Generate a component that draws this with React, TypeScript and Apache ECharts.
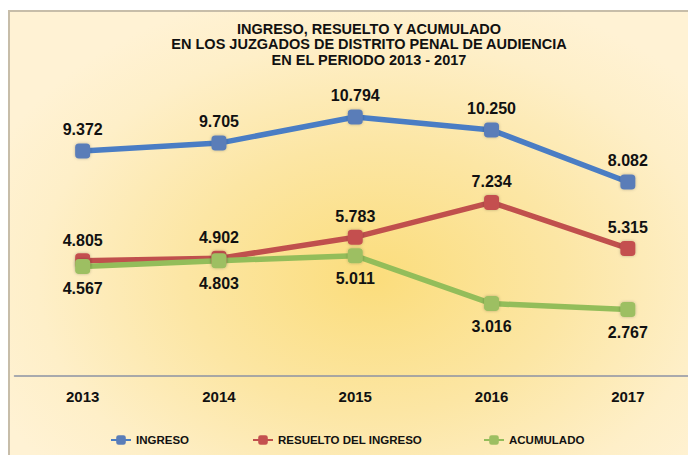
import React, { useEffect, useRef } from "react";
import * as echarts from "echarts";

const titleLines = [
  "INGRESO, RESUELTO Y ACUMULADO",
  "EN LOS JUZGADOS DE DISTRITO PENAL DE AUDIENCIA",
  "EN EL PERIODO 2013 - 2017",
];
const years = ["2013", "2014", "2015", "2016", "2017"];
const ingreso = [9372, 9705, 10794, 10250, 8082];
const resuelto = [4805, 4902, 5783, 7234, 5315];
const acumulado = [4567, 4803, 5011, 3016, 2767];
const seriesNames = ["INGRESO", "RESUELTO DEL INGRESO", "ACUMULADO"];

const fmt = (v: number) => String(v).replace(/\B(?=(\d{3})+(?!\d))/g, ".");
const FONT = "'Liberation Sans', Arial, sans-serif";

export default function App() {
  const ref = useRef<HTMLDivElement>(null);
  useEffect(() => {
    if (!ref.current) return;
    const chart = echarts.init(ref.current, null, { renderer: "svg" });
    const labelStyle = {
      show: true,
      fontFamily: FONT,
      fontWeight: "bold" as const,
      fontSize: 16,
      color: "#111",
      formatter: (p: any) => fmt(p.value),
    };
    const mk = (name: string, data: number[], color: string, marker: string, pos: string, dist: number) => ({
      name,
      type: "line",
      data,
      symbol: "roundRect",
      symbolSize: 15,
      lineStyle: { color, width: 5.5 },
      itemStyle: { color: marker, shadowColor: "rgba(0,0,0,0.25)", shadowBlur: 3 },
      label: { ...labelStyle, position: pos, distance: dist },
      z: 3,
    });
    chart.setOption({
      animation: false,
      title: {
        text: titleLines.join("\n"),
        left: 354,
        top: 4,
        textAlign: "center",
        textStyle: {
          fontFamily: FONT,
          fontWeight: "bold",
          fontSize: 14.5,
          lineHeight: 15.5,
          color: "#111",
        },
      },
      legend: seriesNames.map((n, i) => ({
        data: [n],
        left: [95, 237, 468][i],
        top: 417,
        itemWidth: 20,
        itemHeight: 12,
        textStyle: { fontFamily: FONT, fontWeight: "bold", fontSize: 11.5, color: "#111" },
        selectedMode: false,
      })),
      grid: { left: 4.5, top: 76, width: 687.5, height: 288, containLabel: false },
      xAxis: {
        type: "category",
        data: years,
        boundaryGap: true,
        axisLine: { lineStyle: { color: "#8C92A4", width: 1.5 } },
        axisTick: { show: false },
        axisLabel: { fontFamily: FONT, fontWeight: "bold", fontSize: 15, color: "#111", margin: 13 },
        splitLine: { show: false },
      },
      yAxis: { type: "value", min: 0, max: 12000, show: false, splitLine: { show: false } },
      series: [
        mk(seriesNames[0], ingreso, "#4A7DC4", "#5A7DB8", "top", 6),
        mk(seriesNames[1], resuelto, "#C0504D", "#C4504F", "top", 5),
        mk(seriesNames[2], acumulado, "#93BD5A", "#9DBF62", "bottom", 7),
      ],
    });
    return () => chart.dispose();
  }, []);
  return (
    <div
      style={{
        width: 700,
        height: 460,
        marginTop: 2,
        borderTop: "2px solid #C7BDA9",
        borderLeft: "2px solid #C7BDA9",
        background:
          "radial-gradient(ellipse 60% 65% at 52% 58%, #FBDD7C 0%, #FCE6A4 45%, #FEEFC8 80%, #FFF2D4 100%)",
        overflow: "hidden",
      }}
    >
      <div ref={ref} style={{ width: 686, height: 443 }} />
    </div>
  );
}
